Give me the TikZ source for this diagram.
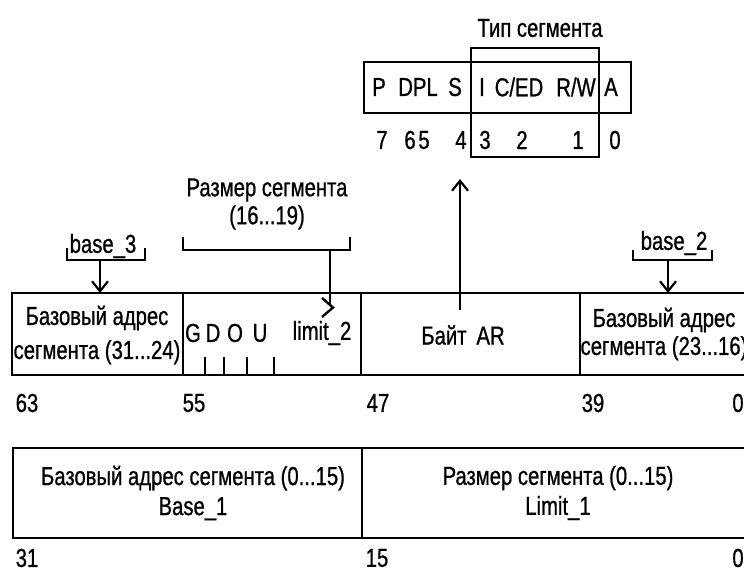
\documentclass[tikz,border=0pt]{standalone}
\usepackage{fontspec}
\setmainfont{Liberation Sans}[FakeStretch=0.78, FakeBold=0.8]
\usetikzlibrary{arrows.meta, positioning}

\begin{document}
\begin{tikzpicture}[x=0.5pt, y=-0.5pt,
    >={Straight Barb[length=5pt, width=8pt, line width=1.1pt]},
    font=\fontsize{13}{14}\selectfont,
    txt/.style={inner sep=0pt, align=center},
    frame/.style={line width=1.4pt},
    divider/.style={line width=1pt},
    bracket/.style={line width=1.2pt},
    bitno/.style={inner sep=0pt}]
  \useasboundingbox[fill=white] (0,0) rectangle (744,571);
  % AR byte: bits and segment type
  \draw[frame] (364,62) rectangle (631,113);
  \draw[divider] (471,48) rectangle (599,157);
  \node[txt] (tip) at (540,28) {Тип сегмента};
  \node[txt] (fP)   at (379,87) {P};
  \node[txt] (fDPL) at (418,87) {DPL};
  \node[txt] (fS)   at (455,87) {S};
  \node[txt] (fI)   at (482,87) {I};
  \node[txt] (fCED) at (519,87) {C/ED};
  \node[txt] (fRW)  at (576,87) {R/W};
  \node[txt] (fA)   at (611,87) {A};
  \foreach \b/\x in {7/382, 6/410, 5/424, 4/461, 3/485, 2/522, 1/578, 0/615}
    \node[bitno] (ar\b) at (\x,140) {\b};
  % arrow from AR byte up to its bits
  \coordinate (arfrom) at (460,310);
  \coordinate (arto) at (460,179);
  \draw[->, bracket] (arfrom) -- (arto);
  % upper descriptor word
  \draw[frame] (12,293) rectangle (752,375);
  \draw[divider] (183,293) -- (183,375);
  \draw[divider] (361,293) -- (361,375);
  \draw[divider] (580,293) -- (580,375);
  \node[txt, font=\fontsize{13}{17}\selectfont] (base3box) at (97,335)
    {Базовый адрес\\сегмента (31...24)};
  \node[txt] (fG) at (193,333) {G};
  \node[txt] (fD) at (213,333) {D};
  \node[txt] (fO) at (235,333) {O};
  \node[txt] (fU) at (260,333) {U};
  \node[txt] (lim2) at (322,333) {limit\_2};
  \foreach \x in {205, 224, 247, 274}
    \draw[divider] (\x,357) -- (\x,375);
  \node[txt] (arbyte) at (463,335) {Байт\, AR};
  \node[txt, font=\fontsize{13}{14}\selectfont] (base2box) at (664,334)
    {Базовый адрес\\сегмента (23...16)};
  % base_3 bracket
  \node[txt] (b3lbl) at (103,246) {base\_3};
  \draw[bracket] (67,248) -- (67,260) -- (145,260) -- (145,248);
  \coordinate (b3from) at (100,260);
  \coordinate (b3to) at (100,293);
  \draw[->, bracket] (b3from) -- (b3to);
  % segment size (16...19) bracket
  \node[txt, font=\fontsize{13}{14}\selectfont] (szlbl) at (267,204)
    {Размер сегмента\\(16...19)};
  \draw[bracket] (183,237) -- (183,250) -- (350,250) -- (350,237);
  \coordinate (szfrom) at (330,250);
  \coordinate (szto) at (330,304);
  \draw[bracket] (szfrom) -- (szto);
  \draw[bracket] (322,298) -- (333,307.5) -- (322,317);
  % base_2 bracket
  \node[txt] (b2lbl) at (674,243) {base\_2};
  \draw[bracket] (633,250) -- (633,260) -- (712,260) -- (712,250);
  \coordinate (b2from) at (668,260);
  \coordinate (b2to) at (668,293);
  \draw[->, bracket] (b2from) -- (b2to);
  % bit numbers of the upper word
  \foreach \b/\x in {63/27, 55/194, 47/378, 39/593, 0/738}
    \node[bitno] (up\b) at (\x,403) {\b};
  % lower descriptor word
  \draw[frame] (13,448) rectangle (752,538);
  \draw[line width=0.8pt] (362,448) -- (362,538);
  \node[txt, font=\fontsize{13}{15}\selectfont] (base1box) at (193,493)
    {Базовый адрес сегмента (0...15)\\Base\_1};
  \node[txt, font=\fontsize{13}{15}\selectfont] (lim1box) at (558,493)
    {Размер сегмента (0...15)\\Limit\_1};
  \foreach \b/\x in {31/27, 15/377, 0/738}
    \node[bitno] (lo\b) at (\x,558) {\b};
\end{tikzpicture}
\end{document}
